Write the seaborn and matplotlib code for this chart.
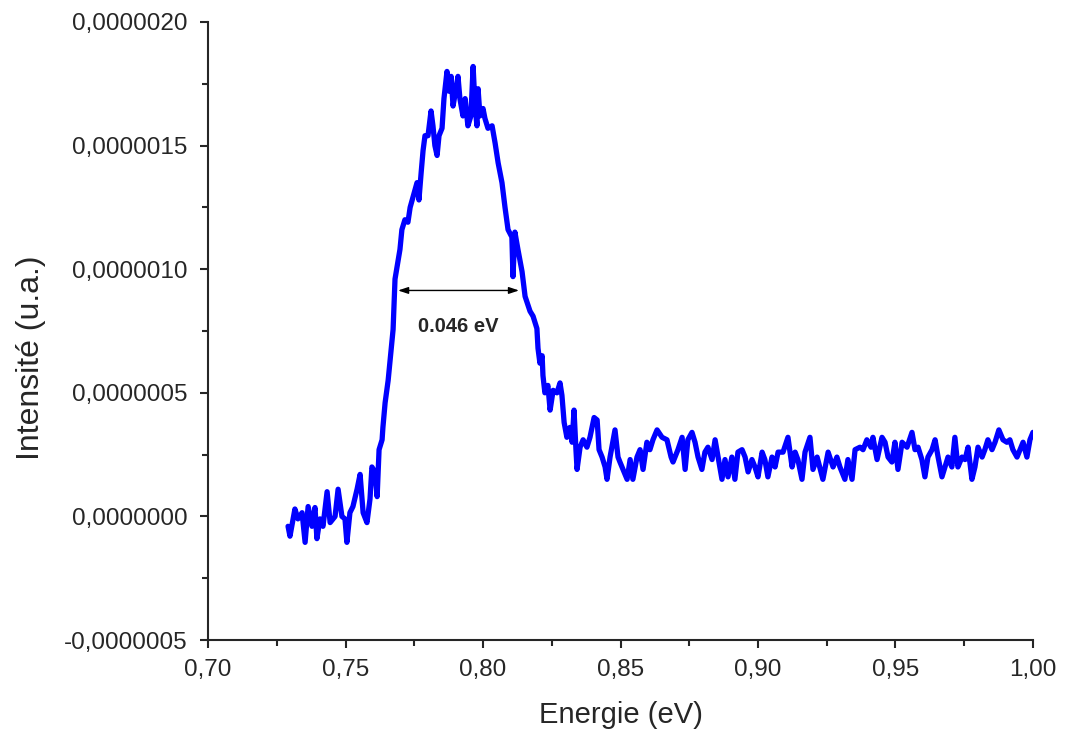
import numpy as np
import pandas as pd
import seaborn as sns
import matplotlib.pyplot as plt
from matplotlib.ticker import FuncFormatter, MultipleLocator

# Spectrum (energy in eV, intensity in units of 1e-7)
energie = [
    0.7291, 0.7298, 0.7316, 0.7327, 0.7342, 0.7353, 0.7364, 0.7378, 0.7389, 0.7396,
    0.7407, 0.7418, 0.7433, 0.7444, 0.7462, 0.7473, 0.7487, 0.7498, 0.7505, 0.7516,
    0.7527, 0.7542, 0.7553, 0.7564, 0.7578, 0.7589, 0.7596, 0.7607, 0.7615, 0.7622,
    0.7633, 0.7636, 0.7644, 0.7655, 0.7673, 0.7680, 0.7698, 0.7705, 0.7716, 0.7727,
    0.7735, 0.7745, 0.7760, 0.7767, 0.7775, 0.7782, 0.7789, 0.7800, 0.7811, 0.7818,
    0.7825, 0.7833, 0.7840, 0.7851, 0.7858, 0.7869, 0.7876, 0.7884, 0.7891, 0.7902,
    0.7909, 0.7916, 0.7927, 0.7935, 0.7945, 0.7956, 0.7964, 0.7971, 0.7978, 0.7982,
    0.7989, 0.8000, 0.8007, 0.8018, 0.8033, 0.8044, 0.8055, 0.8069, 0.8080, 0.8091,
    0.8105, 0.8109, 0.8116, 0.8127, 0.8142, 0.8153, 0.8171, 0.8182, 0.8196, 0.8200,
    0.8207, 0.8215, 0.8218, 0.8225, 0.8236, 0.8244, 0.8255, 0.8269, 0.8280, 0.8287,
    0.8295, 0.8305, 0.8316, 0.8324, 0.8331, 0.8338, 0.8342, 0.8353, 0.8364, 0.8378,
    0.8389, 0.8404, 0.8415, 0.8422, 0.8433, 0.8444, 0.8451, 0.8462, 0.8480, 0.8491,
    0.8498, 0.8509, 0.8524, 0.8535, 0.8545, 0.8560, 0.8571, 0.8582, 0.8596, 0.8607,
    0.8618, 0.8633, 0.8651, 0.8669, 0.8684, 0.8691, 0.8709, 0.8724, 0.8735, 0.8745,
    0.8760, 0.8771, 0.8782, 0.8796, 0.8807, 0.8818, 0.8833, 0.8844, 0.8855, 0.8869,
    0.8880, 0.8891, 0.8905, 0.8916, 0.8927, 0.8942, 0.8953, 0.8964, 0.8978, 0.8989,
    0.9000, 0.9015, 0.9025, 0.9036, 0.9051, 0.9062, 0.9073, 0.9091, 0.9109, 0.9124,
    0.9135, 0.9145, 0.9160, 0.9171, 0.9189, 0.9200, 0.9215, 0.9236, 0.9255, 0.9273,
    0.9287, 0.9298, 0.9316, 0.9327, 0.9342, 0.9353, 0.9371, 0.9382, 0.9396, 0.9411,
    0.9418, 0.9433, 0.9451, 0.9462, 0.9473, 0.9487, 0.9498, 0.9509, 0.9524, 0.9542,
    0.9560, 0.9571, 0.9582, 0.9596, 0.9607, 0.9618, 0.9633, 0.9644, 0.9655, 0.9669,
    0.9680, 0.9691, 0.9705, 0.9716, 0.9727, 0.9742, 0.9753, 0.9764, 0.9778, 0.9789,
    0.9800, 0.9815, 0.9825, 0.9836, 0.9851, 0.9862, 0.9876, 0.9891, 0.9905, 0.9916,
    0.9927, 0.9942, 0.9953, 0.9964, 0.9978, 0.9989, 1.0000,
]
intensite_e7 = [
    -0.4, -0.8, 0.3, -0.1, 0.15, -1.05, 0.4, -0.4, 0.36, -0.9,
    -0.1, -0.4, 1.0, -0.25, 0.0, 1.1, 0.0, -0.1, -1.05, 0.15,
    0.4, 1.1, 1.7, 0.15, -0.25, 0.7, 2.0, 1.8, 0.8, 2.7,
    3.1, 3.6, 4.6, 5.5, 7.56, 9.6, 10.8, 11.6, 12.0, 11.9,
    12.5, 12.9, 13.5, 12.8, 13.9, 14.8, 15.4, 15.4, 16.4, 15.8,
    15.0, 14.6, 15.4, 15.7, 16.9, 18.0, 17.2, 17.8, 16.6, 17.3,
    17.8, 16.9, 16.2, 16.9, 15.8, 16.2, 18.2, 16.6, 15.8, 17.3,
    16.2, 16.5, 16.1, 15.7, 15.8, 15.1, 14.3, 13.5, 12.5, 11.6,
    11.3, 9.7, 11.5, 10.8, 9.9, 8.9, 8.3, 8.1, 7.6, 6.8,
    6.2, 6.5, 5.7, 5.0, 5.3, 4.3, 5.1, 5.0, 5.4, 4.9,
    3.8, 3.2, 3.6, 3.0, 4.3, 2.7, 1.9, 2.8, 3.1, 2.8,
    3.2, 4.0, 3.9, 2.7, 2.4, 2.0, 1.5, 2.4, 3.5, 2.4,
    2.2, 1.9, 1.5, 2.3, 1.5, 2.4, 2.7, 1.9, 3.0, 2.7,
    3.1, 3.5, 3.2, 3.1, 2.4, 2.2, 2.7, 3.2, 1.9, 3.1,
    3.4, 3.0, 2.4, 1.9, 2.6, 2.8, 2.3, 3.1, 2.4, 1.5,
    2.3, 1.6, 2.4, 1.5, 2.6, 2.7, 2.4, 1.8, 2.3, 2.0,
    1.6, 2.6, 2.3, 1.6, 2.4, 2.0, 2.6, 2.6, 3.2, 2.0,
    2.6, 2.3, 1.5, 2.6, 3.2, 1.9, 2.4, 1.5, 2.6, 2.0,
    2.4, 2.0, 1.5, 2.3, 1.5, 2.7, 2.8, 2.7, 3.1, 2.8,
    3.2, 2.3, 3.2, 3.0, 2.4, 2.2, 3.0, 1.9, 3.0, 2.8,
    3.4, 2.7, 2.8, 2.3, 1.6, 2.4, 2.7, 3.1, 2.4, 1.6,
    2.0, 2.4, 2.0, 3.2, 2.0, 2.4, 2.3, 2.8, 1.5, 2.0,
    2.8, 2.4, 2.7, 3.1, 2.7, 3.0, 3.5, 3.1, 3.0, 3.1,
    2.7, 2.4, 2.7, 3.0, 2.4, 3.1, 3.4,
]

# FWHM marker
fwhm_start, fwhm_end, fwhm_level = 0.7691, 0.8131, 9.14e-7
fwhm_label = '0.046 eV'

df = pd.DataFrame({'energie': energie, 'intensite': np.array(intensite_e7) * 1e-7})

sns.set_style('ticks')
plt.rcParams['font.family'] = ['Liberation Sans', 'DejaVu Sans']

fig = plt.figure(figsize=(10.69, 7.40), dpi=100)
ax = fig.add_axes([0.1946, 0.1351, 0.7717, 0.8352])

sns.lineplot(data=df, x='energie', y='intensite', color='#0000ff', linewidth=3.8, ax=ax)
ax.lines[0].set_solid_joinstyle('round')

ax.annotate('', xy=(fwhm_start, fwhm_level), xytext=(fwhm_end, fwhm_level),
            arrowprops=dict(arrowstyle='<|-|>,head_length=0.6,head_width=0.2',
                            color='black', lw=1, shrinkA=0, shrinkB=0))
ax.text((fwhm_start + fwhm_end) / 2, 7.7e-7, fwhm_label, ha='center', va='center',
        fontsize=14.5, fontweight='bold')

ax.set_xlim(0.70, 1.00)
ax.set_ylim(-0.0000005, 0.0000020)
ax.xaxis.set_major_locator(MultipleLocator(0.05))
ax.xaxis.set_minor_locator(MultipleLocator(0.025))
ax.yaxis.set_major_locator(MultipleLocator(0.0000005))
ax.yaxis.set_minor_locator(MultipleLocator(0.00000025))
ax.xaxis.set_major_formatter(FuncFormatter(lambda v, p: f'{v:.2f}'.replace('.', ',')))
ax.yaxis.set_major_formatter(FuncFormatter(lambda v, p: f'{v:.7f}'.replace('.', ',')))

ax.tick_params(which='major', direction='out', length=6, width=1.5, labelsize=17.5, pad=8)
ax.tick_params(which='minor', direction='out', length=4, width=1.5)
ax.tick_params(axis='y', which='major', pad=9)

ax.set_xlabel('Energie (eV)', fontsize=21, labelpad=14)
ax.set_ylabel('Intensité (u.a.)', fontsize=23)
ax.yaxis.set_label_coords(-0.196, 0.456)

sns.despine(ax=ax)
for s in ['left', 'bottom']:
    ax.spines[s].set_linewidth(1.5)

fig.savefig('out.png', dpi=100)
